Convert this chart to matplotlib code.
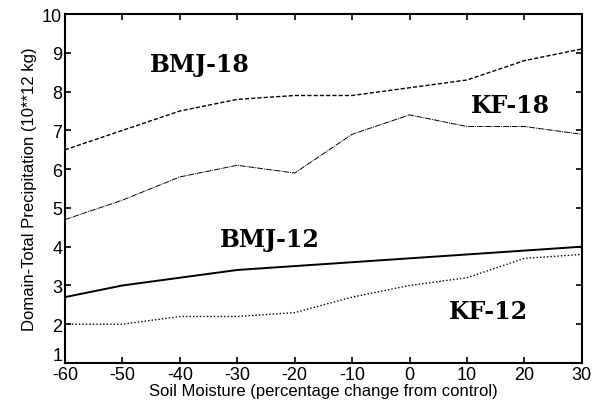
import numpy as np
import matplotlib.pyplot as plt
import matplotlib.transforms as mtransforms

soil = [-60, -50, -40, -30, -20, -10, 0, 10, 20, 30]
bmj18 = [6.5, 7.0, 7.5, 7.8, 7.9, 7.9, 8.1, 8.3, 8.8, 9.1]
kf18 = [4.7, 5.2, 5.8, 6.1, 5.9, 6.9, 7.4, 7.1, 7.1, 6.9]
bmj12 = [2.7, 3.0, 3.2, 3.4, 3.5, 3.6, 3.7, 3.8, 3.9, 4.0]
kf12 = [2.0, 2.0, 2.2, 2.2, 2.3, 2.7, 3.0, 3.2, 3.7, 3.8]

plt.rcParams['font.family'] = 'Liberation Sans'
plt.rcParams['axes.unicode_minus'] = False
fig = plt.figure(figsize=(5.98, 4.02), dpi=100)
ax = fig.add_axes([0.1087, 0.0945, 0.8643, 0.868])

ax.plot(soil, bmj18, color='black', lw=1.0, linestyle=(0, (3, 1.5)))
ax.plot(soil, kf18, color='black', lw=0.7, linestyle=(0, (6, 1, 1, 1)))
ax.plot(soil, bmj12, color='black', lw=1.4, linestyle='-')
ax.plot(soil, kf12, color='black', lw=1.0, linestyle=(0, (1, 1.5)))

lab = dict(family='DejaVu Serif', fontweight='bold', fontsize=17, ha='center', va='center')
ax.text(-36.5, 8.7, 'BMJ-18', **lab)
ax.text(17.5, 7.65, 'KF-18', **lab)
ax.text(-24.3, 4.2, 'BMJ-12', **lab)
ax.text(13.7, 2.34, 'KF-12', **lab)

ax.set_xlim(-60, 30)
ax.set_ylim(1, 10)
ax.set_xticks(np.arange(-60, 31, 10))
ax.set_yticks(np.arange(1, 11, 1))
ax.tick_params(direction='in', length=4, width=1.2, labelsize=13, pad=2,
               top=True, right=True)
for s in ax.spines.values():
    s.set_linewidth(1.5)

# lift the "1" label a bit so it sits above "-60" like in the original
first = ax.get_yticklabels()[0]
first.set_transform(first.get_transform() +
                    mtransforms.ScaledTranslation(0, 7 / 72, fig.dpi_scale_trans))

ax.set_xlabel('Soil Moisture (percentage change from control)', fontsize=12, labelpad=0)
ax.set_ylabel('Domain-Total Precipitation (10**12 kg)', fontsize=12, labelpad=4)

fig.savefig('out.png', dpi=100)
